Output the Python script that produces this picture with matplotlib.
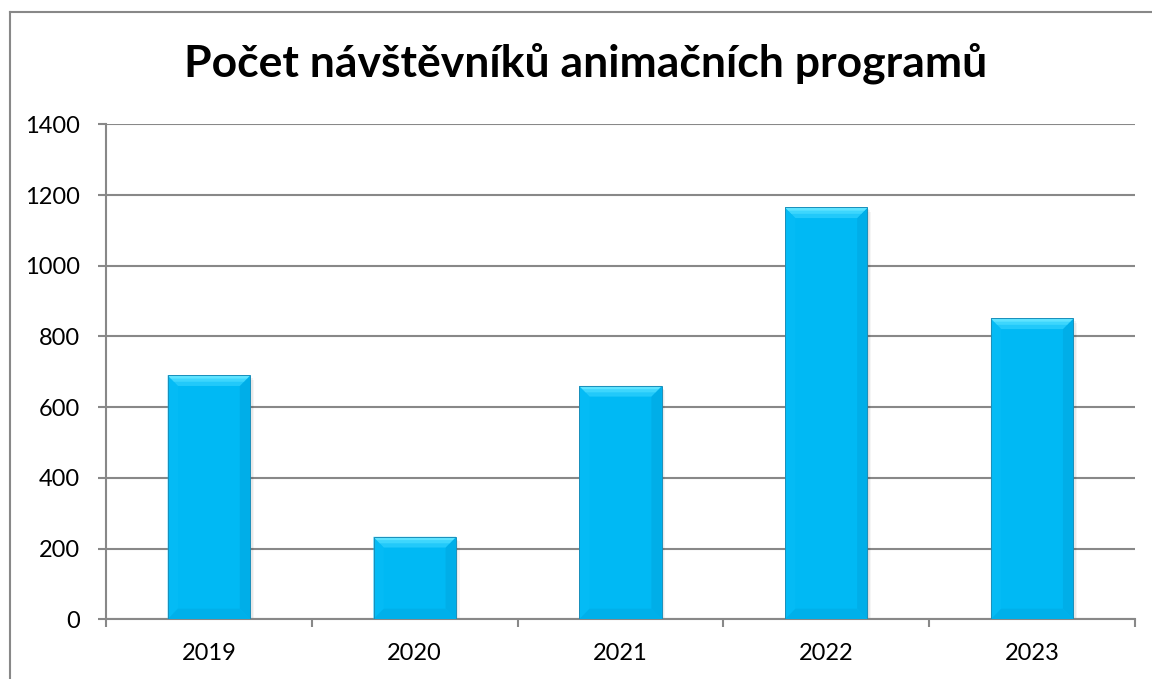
import matplotlib
matplotlib.use("Agg")
import matplotlib.pyplot as plt
from matplotlib.patches import Polygon, Rectangle
from matplotlib.lines import Line2D
import numpy as np

years = ["2019", "2020", "2021", "2022", "2023"]
visitors = [690, 233, 660, 1165, 851]
yticks = [0, 200, 400, 600, 800, 1000, 1200, 1400]
title = "Počet návštěvníků animačních programů"

plt.rcParams['font.family'] = ['Lato', 'DejaVu Sans']

W, H = 1152, 679
fig = plt.figure(figsize=(W / 100, H / 100), dpi=100)
ax = fig.add_axes([106 / W, 1 - 619.3 / H, (1135 - 106) / W, (619.3 - 124.4) / H])

x = np.arange(len(years))
bar_w = 0.4
base = '#00B9F4'
bars = ax.bar(x, visitors, width=bar_w, color=base, edgecolor='none',
              linewidth=0, zorder=3)

# bevel + shadow effects derived from each bar's geometry
dx = 0.05
dy = 30
for b in bars:
    x0 = b.get_x()
    x1 = x0 + b.get_width()
    h = b.get_height()
    # soft shadow
    for k, a in enumerate([0.05, 0.05, 0.04]):
        off = 0.006 * (k + 1)
        ax.add_patch(Rectangle((x0 + off, -4 * (k + 1)), x1 - x0, h, facecolor='#000000',
                               alpha=a, linewidth=0, zorder=2))
    # left bevel
    ax.add_patch(Polygon([(x0, 0), (x0, h), (x0 + dx, h - dy), (x0 + dx, dy)],
                         closed=True, facecolor='#04BBF5', linewidth=0, zorder=4))
    # right bevel
    ax.add_patch(Polygon([(x1, 0), (x1, h), (x1 - dx, h - dy), (x1 - dx, dy)],
                         closed=True, facecolor='#00AEE8', linewidth=0, zorder=4))
    # bottom bevel
    ax.add_patch(Polygon([(x0, 0), (x1, 0), (x1 - dx, dy), (x0 + dx, dy)],
                         closed=True, facecolor='#00B0EA', linewidth=0, zorder=4))
    # top bevel (gradient-like layers)
    ax.add_patch(Polygon([(x0, h), (x1, h), (x1 - dx, h - dy), (x0 + dx, h - dy)],
                         closed=True, facecolor='#22C9FA', linewidth=0, zorder=4))
    ax.add_patch(Polygon([(x0, h), (x1, h), (x1 - dx * 0.6, h - dy * 0.6), (x0 + dx * 0.6, h - dy * 0.6)],
                         closed=True, facecolor='#3DD6FD', linewidth=0, zorder=4))
    ax.add_patch(Polygon([(x0, h), (x1, h), (x1 - dx * 0.3, h - dy * 0.3), (x0 + dx * 0.3, h - dy * 0.3)],
                         closed=True, facecolor='#5EE3FF', linewidth=0, zorder=4))
    # outline
    ax.add_patch(Rectangle((x0, 0), x1 - x0, h, facecolor='none', edgecolor='#1A8FBA',
                           linewidth=0.7, zorder=5))

ax.set_xlim(-0.5, len(years) - 0.5)
ax.set_ylim(0, 1400)
ax.set_yticks(yticks)
ax.set_yticklabels([str(v) for v in yticks])
ax.set_xticks(x)
ax.set_xticklabels(years)
ax.set_xticks(np.arange(len(years) + 1) - 0.5, minor=True)

ax.grid(axis='y', color='#888888', linewidth=1.5, zorder=0)
for s in ['top', 'right']:
    ax.spines[s].set_visible(False)
for s in ['left', 'bottom']:
    ax.spines[s].set_color('#888888')
    ax.spines[s].set_linewidth(1.5)
ax.tick_params(axis='y', length=6, width=1.5, color='#888888', pad=13, labelsize=17)
ax.tick_params(axis='x', which='major', length=0, pad=17, labelsize=17)
ax.tick_params(axis='x', which='minor', length=6, width=1.5, color='#888888')
ax.set_axisbelow(True)

fig.text(0.508, 1 - 77 / H, title, ha='center', va='baseline',
         fontsize=32, fontweight='bold', color='black')

# chart frame (left and top edges visible)
fig.add_artist(Line2D([10 / W, 10 / W], [0, 1 - 12 / H], transform=fig.transFigure,
                      color='#888888', linewidth=1.5))
fig.add_artist(Line2D([10 / W, 1], [1 - 12 / H, 1 - 12 / H], transform=fig.transFigure,
                      color='#888888', linewidth=1.5))

fig.savefig("out.png", dpi=100)
